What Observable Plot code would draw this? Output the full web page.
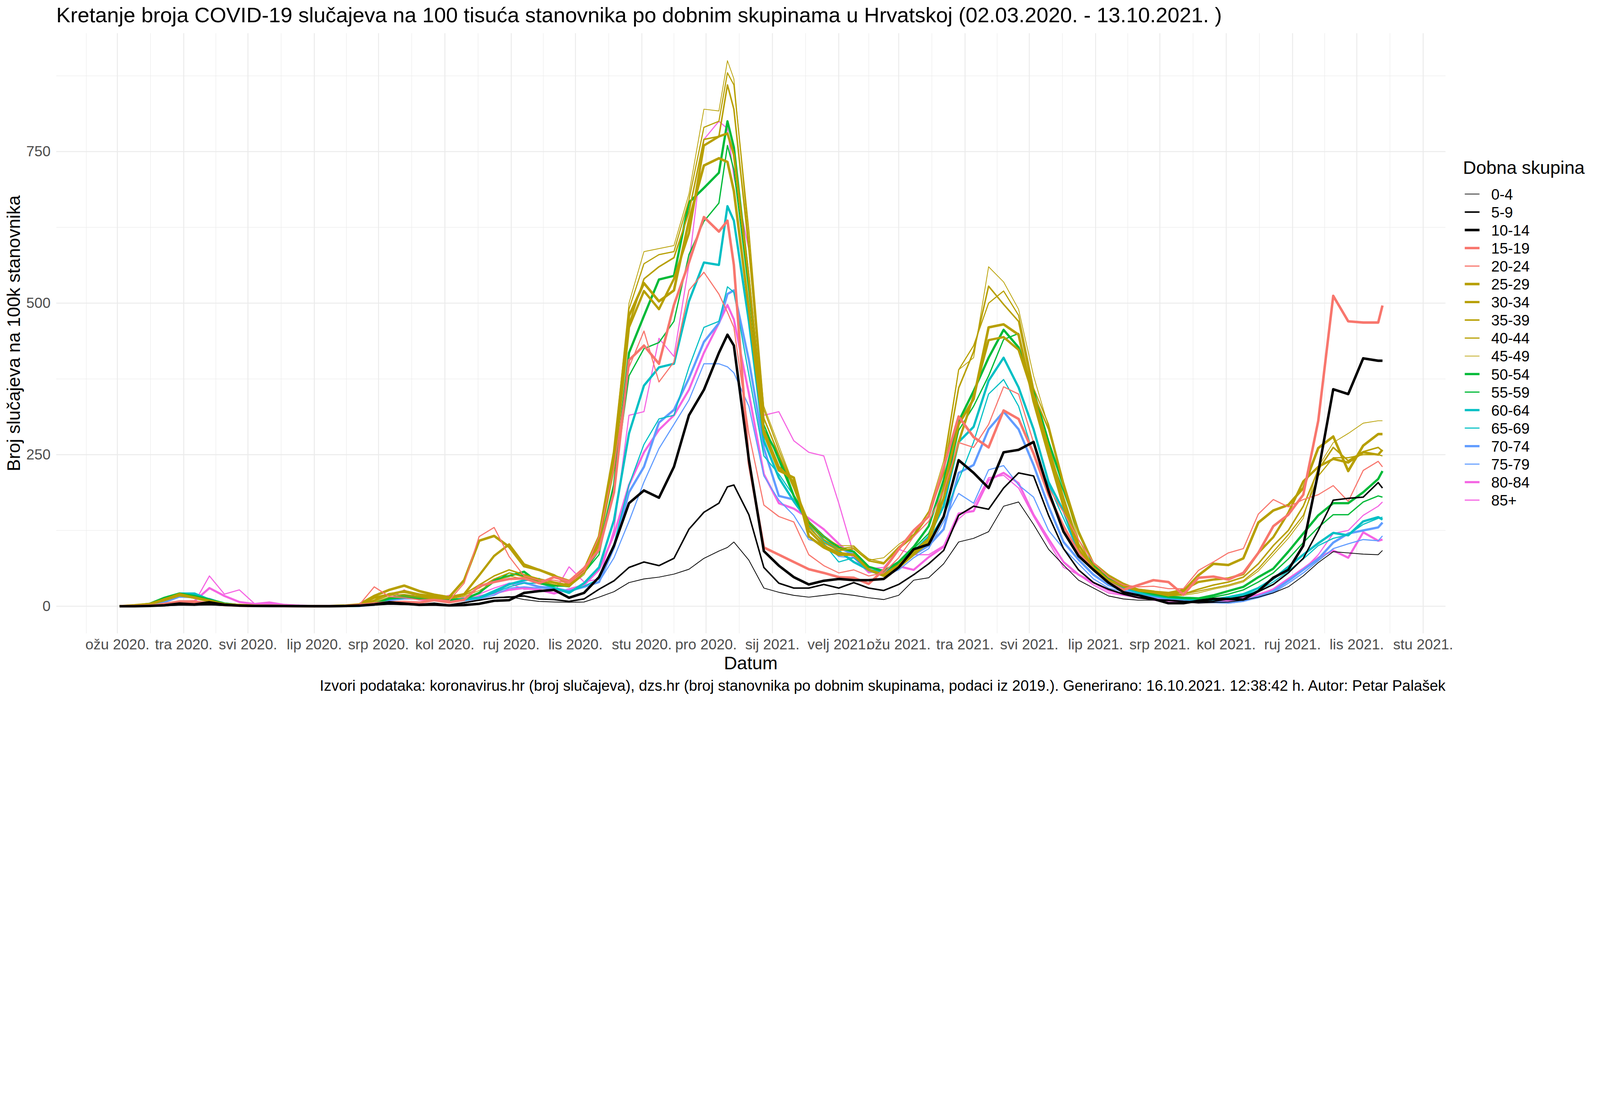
<!DOCTYPE html>
<html><head><meta charset="utf-8">
<script src="https://cdn.jsdelivr.net/npm/d3@7"></script>
<script src="https://cdn.jsdelivr.net/npm/@observablehq/plot@0.6"></script>
<style>
html,body{margin:0;padding:0;background:#fff;overflow:hidden;}
#outer{position:relative;overflow:hidden;background:#fff;}
#wrap{position:absolute;left:0;top:0;width:6400px;height:2800px;overflow:hidden;background:#fff;transform-origin:0 0;font-family:"Liberation Sans",Arial,Helvetica,sans-serif;}
#chart{position:absolute;left:0;top:120px;width:6400px;}
#chart svg{max-width:none !important;}
#overlay{position:absolute;left:0;top:0;}
</style></head><body>
<div id="outer"><div id="wrap"><div id="chart"></div><svg id="overlay" width="6400" height="2800"></svg></div></div>
<script>
const titleText = "Kretanje broja COVID-19 slučajeva na 100 tisuća stanovnika po dobnim skupinama u Hrvatskoj (02.03.2020. - 13.10.2021. )";
const yTitle = "Broj slučajeva na 100k stanovnika";
const xTitle = "Datum";
const captionText = "Izvori podataka: koronavirus.hr (broj slučajeva), dzs.hr (broj stanovnika po dobnim skupinama, podaci iz 2019.). Generirano: 16.10.2021. 12:38:42 h. Autor: Petar Palašek";
const legendTitle = "Dobna skupina";

const dates = ["2020-03-02","2020-03-09","2020-03-16","2020-03-23","2020-03-30","2020-04-06","2020-04-13","2020-04-20","2020-04-27","2020-05-04","2020-05-11","2020-05-18","2020-05-25","2020-06-01","2020-06-08","2020-06-15","2020-06-22","2020-06-29","2020-07-06","2020-07-13",
"2020-07-20","2020-07-27","2020-08-03","2020-08-10","2020-08-17","2020-08-24","2020-08-31","2020-09-07","2020-09-14","2020-09-21","2020-09-28","2020-10-05","2020-10-12",
"2020-10-19","2020-10-26","2020-11-02","2020-11-09","2020-11-16","2020-11-23","2020-11-30","2020-12-07","2020-12-11","2020-12-14","2020-12-21","2020-12-28","2021-01-04","2021-01-11","2021-01-18","2021-01-25","2021-02-01",
"2021-02-08","2021-02-15","2021-02-22","2021-03-01","2021-03-08","2021-03-15","2021-03-22","2021-03-29","2021-04-05","2021-04-12","2021-04-19","2021-04-26","2021-05-03","2021-05-10","2021-05-17","2021-05-24","2021-05-31","2021-06-07","2021-06-14","2021-06-21","2021-06-28",
"2021-07-05","2021-07-12","2021-07-19","2021-07-26","2021-08-02","2021-08-09","2021-08-16","2021-08-23","2021-08-30","2021-09-06","2021-09-13","2021-09-20","2021-09-27","2021-10-04","2021-10-11","2021-10-13"];

const groups = ["0-4","5-9","10-14","15-19","20-24","25-29","30-34","35-39","40-44","45-49","50-54","55-59","60-64","65-69","70-74","75-79","80-84","85+"];
const colors = ["#000000","#000000","#000000","#F8766D","#F8766D","#B79F00","#B79F00","#B79F00","#B79F00","#B79F00","#00BA38","#00BA38","#00BFC4","#00BFC4","#619CFF","#619CFF","#F564E3","#F564E3"];
const widths = [3,6,10,10,4.5,10,9,6,4.5,3,9,5,9,4.5,9,4.5,8.5,4.5];

const s0_4 = [0,0,0.3,0.8,1.5,1.5,2,1,0.5,0.3,0.3,0.2,0.2,0,0,0.2,0.5,1.5,3,2.3,
1.6,3.5,2,5,10,14,16,11,8,7,6.5,7,15,
24,39,45,48,53,61,79,91,97,106,76,30,23,18,15,18,21,
18,14,11,18,43,47,70,106,112,123,165,172,135,94,68,43,30,17,12,10,10,
9,7,5,6,7,10,15,22,32,50,72,90,88,86,85,92];
const s5_9 = [0,0,0.3,1,2.5,2,3,1.5,0.8,0.5,0.3,0.2,0.2,0,0,0.3,0.8,2.5,4.4,3,
3,5,2,6,10,14,15,17,12,11,8,12,28,
42,64,73,67,79,127,155,170,197,200,151,64,38,30,30,36,30,
39,30,26,36,52,70,92,150,165,160,195,220,215,150,95,60,39,28,20,14,11,
10,8,7,8,12,16,24,36,55,79,125,175,178,180,204,195];
const s10_14 = [0,0,0.5,1.5,4.4,3,6.5,2.5,1,0.5,0.4,0.3,0.2,0.1,0.1,0.3,1,3,6.5,4.4,
2.3,2.8,1.3,2,4,9,10,22,25,27,14,22,48,
100,170,191,179,230,315,357,418,448,430,242,91,67,48,36,42,45,
43,43,45,64,94,102,148,241,220,195,254,258,271,190,123,83,60,39,23,18,12,
5,5,9,12,12,11,25,47,60,100,221,358,350,409,405,405];
const s15_19 = [0,0.3,1,3,6.5,7,5,2,1,0.5,0.5,0.3,0.2,0.1,0.2,0.5,2,4.4,6.5,7,
6,10,6.4,10.7,33,40,45,46,38,48,41,63,93,
188,406,430,400,497,567,642,618,636,563,236,97,85,73,61,55,48,
47,37,60,94,125,148,229,313,279,262,323,309,252,184,132,88,60,39,27,35,43,
40,19,47,49,44,55,88,132,151,184,306,512,470,468,468,496];
const s20_24 = [0,0.5,1.5,5,9,9,6,3,1.5,1,0.8,0.5,0.3,0.2,0.3,0.8,2.3,32,16,14,
10.6,11.4,9.3,38,115,130,82,50,43,43,38,57,115,
230,394,454,370,403,521,551,515,485,460,285,167,148,139,85,67,55,
60,50,55,80,115,140,190,270,262,300,362,350,270,195,155,110,72,48,35,32,33,
29,29,59,73,88,95,152,176,164,176,184,199,173,224,239,230];
const s25_29 = [0,1.5,3.7,11,20,14,8.5,3,2,1,0.8,0.5,0.3,0.2,0.3,1,3,17,27,34,
25,19,15,43,108,116,98,66,60,51,36,60,115,
254,479,533,503,521,636,727,739,733,685,491,285,224,212,115,97,85,
85,60,52,68,90,111,195,300,342,460,465,448,338,250,165,94,60,43,33,26,23,
18,25,51,70,68,79,138,158,167,195,261,280,223,265,284,284];
const s30_34 = [0,1.2,3.5,10,18,14,9,3.5,2,1,0.8,0.5,0.3,0.2,0.3,0.8,2.5,14,19.5,25,
19.5,16.5,15,20,51,83,102,69,60,50,42,60,106,
230,460,520,490,540,615,760,775,780,745,540,290,230,205,125,100,88,
85,60,50,64,85,106,178,271,347,439,444,423,347,262,178,102,64,43,33,27,24,
22,27,40,44,46,53,88,114,154,206,230,243,237,254,250,258];
const s35_39 = [0,1,3.5,11,19,15,10,4,2,1,0.8,0.5,0.3,0.2,0.3,0.7,2,10,21,23,
18,14,13.6,20,35,50,60,52,45,40,35,58,105,
235,465,540,560,575,650,770,775,860,820,590,310,250,195,130,105,92,
95,75,70,95,115,150,220,360,420,528,498,470,350,292,200,120,70,50,36,28,25,
18,20,28,35,40,48,70,100,125,165,225,262,240,255,262,256];
const s40_44 = [0,1,3.5,12,19,15,10,4,2,1,0.7,0.4,0.3,0.2,0.2,0.6,1.5,8,18,19.5,
16,13,13,18,30,45,55,48,42,38,33,55,100,
245,490,565,580,585,670,790,800,880,860,620,325,258,198,135,110,95,
98,78,72,98,118,155,230,390,430,500,520,480,360,300,205,125,72,52,38,28,24,
18,20,25,30,35,42,62,90,118,150,215,245,245,250,250,248];
const s45_49 = [0,1,4,13,20,16,10,4.5,2,1,0.7,0.4,0.3,0.2,0.2,0.5,1.2,6,15,17,
14,12,12,16,26,40,50,45,40,36,32,52,100,
260,500,585,590,595,680,820,817,900,870,600,330,265,200,140,115,100,
100,76,80,102,119,157,240,390,410,560,535,490,380,296,195,110,64,50,38,27,23,
17,18,22,28,33,40,58,85,112,145,230,270,285,302,306,306];
const s50_54 = [0,1,4,14,21,17,11,4.5,2,1,0.7,0.4,0.3,0.1,0.2,0.5,1,5,14,17,
14,12,10.7,11.4,22,43,50,57,38,34,34,57,93,
200,418,479,539,545,666,690,715,800,757,539,291,248,182,139,115,97,
90,65,58,73,98,132,208,305,355,410,456,427,355,271,199,123,68,47,35,26,20,
16,14,13,18,25,32,48,62,90,120,150,170,170,188,210,223];
const s55_59 = [0,1,4,13,19.5,17,11,4.5,2,1,0.7,0.4,0.3,0.1,0.2,0.4,0.8,4,12,14,
12,11,10,12,22,40,55,50,42,35,32,55,85,
200,380,425,435,470,580,635,665,760,720,520,300,240,180,135,110,95,
90,65,58,70,95,120,180,290,330,380,440,450,340,255,190,120,68,45,32,25,21,
15,13,12,15,20,27,40,55,78,105,130,151,151,172,182,180];
const s60_64 = [0,0.8,3,10,21,21,11,4.5,2,1,0.7,0.4,0.3,0.1,0.1,0.3,0.8,3.5,12.7,17,
15.5,12,10.7,12,14,25,36,43,45,30,22,38,64,
142,285,364,394,400,503,567,563,660,636,470,273,212,173,139,109,91,
73,60,56,73,90,115,165,271,296,372,410,361,292,205,157,90,60,43,31,22,18,
14,12,10,11,15,20,30,45,65,85,104,121,117,140,147,143];
const s65_69 = [0,0.6,2.5,9,18,19,10,4,2,1,0.6,0.3,0.2,0.1,0.1,0.3,0.6,3,11,15,
13,11,9,10,13,22,32,38,38,30,24,33,45,
103,200,267,309,315,394,460,470,527,518,382,248,218,182,133,103,73,
80,60,55,70,88,110,150,208,271,350,374,330,250,200,145,90,60,40,30,22,18,
14,12,10,11,14,18,26,40,58,78,100,112,118,135,145,147];
const s70_74 = [0,0.5,2,7,17,15.5,12,3.7,2,1,0.6,0.3,0.2,0.1,0.1,0.3,0.5,2.5,11,14,
14,10.7,8.5,10,14,22,37,39,32,30,25,32,40,
97,188,230,303,324,376,436,467,515,521,406,261,182,176,139,115,97,
85,60,52,65,85,100,127,220,233,292,321,292,233,165,106,77,52,35,26,20,16,
12,9,8,7,6,9,16,25,42,60,78,105,120,125,130,138];
const s75_79 = [0,0.5,2,6,15,14,12,4,2,1,0.6,0.3,0.2,0.1,0.1,0.2,0.5,2,9,12,
12,10,8,9,12,18,30,32,30,28,25,32,40,
80,140,205,260,300,340,400,400,395,385,330,215,175,150,110,103,82,
80,58,50,60,80,95,140,186,170,225,232,200,180,125,95,70,45,30,24,18,15,
12,9,7,6,5,8,14,22,38,55,75,95,103,110,108,116];
const s80_84 = [0,0.3,1.5,4,6,8.5,30,17,7,3.7,4.4,2.3,1,0.3,0.2,0.2,0.5,3,11,18,
11,10,7.8,10,16.5,21,27,30,27,21,28,35,60,
118,200,254,291,315,357,418,467,497,473,351,218,170,161,145,127,103,
81,56,60,66,60,81,98,153,157,208,220,203,151,111,73,52,39,26,20,14,12,
10,8,7,8,9,12,18,28,45,62,80,92,80,122,108,110];
const s85 = [0,0.3,1,3,5,6,50,20,27,4.4,7,3,1.6,0.5,0.3,0.3,0.5,3,12,27,
12.7,12,18,14,20,30,38,28,28,22,65,40,45,
127,315,321,442,412,563,770,800,788,709,588,315,321,273,254,248,170,
85,62,64,94,85,85,100,144,165,212,216,195,148,106,64,52,35,22,18,14,10,
7,6,6,8,10,15,20,28,42,60,85,120,125,150,165,172];

const monthTicks = ["2020-03-01","2020-04-01","2020-05-01","2020-06-01","2020-07-01","2020-08-01","2020-09-01","2020-10-01","2020-11-01","2020-12-01","2021-01-01","2021-02-01","2021-03-01","2021-04-01","2021-05-01","2021-06-01","2021-07-01","2021-08-01","2021-09-01","2021-10-01","2021-11-01"];
const monthLabels = ["ožu 2020.","tra 2020.","svi 2020.","lip 2020.","srp 2020.","kol 2020.","ruj 2020.","lis 2020.","stu 2020.","pro 2020.","sij 2021.","velj 2021.","ožu 2021.","tra 2021.","svi 2021.","lip 2021.","srp 2021.","kol 2021.","ruj 2021.","lis 2021.","stu 2021."];
const yTicks = [0, 250, 500, 750];

const series = [s0_4,s5_9,s10_14,s15_19,s20_24,s25_29,s30_34,s35_39,s40_44,s45_49,s50_54,s55_59,s60_64,s65_69,s70_74,s75_79,s80_84,s85];
series.forEach((s, i) => { if (s.length !== dates.length) throw new Error("length mismatch " + groups[i] + " " + s.length); });

const table = groups.flatMap((g, gi) => series[gi].map((v, i) => ({date: new Date(dates[i]), value: v, group: g})));

// ggplot-like 5% expansion of scales
const ext = d3.extent(table, d => d.date);
const padX = (ext[1] - ext[0]) * 0.05;
const xDomain = [new Date(+ext[0] - padX), new Date(+ext[1] + padX)];
const yMax = d3.max(table, d => d.value), yMin = 0;
const yDomain = [yMin - (yMax - yMin) * 0.05, yMax + (yMax - yMin) * 0.05];

const majorDates = monthTicks.map(d => new Date(d));
const labelMap = new Map(majorDates.map((d, i) => [+d, monthLabels[i]]));
const ext2 = [d3.utcMonth.offset(majorDates[0], -1), ...majorDates, d3.utcMonth.offset(majorDates[majorDates.length - 1], 1)];
const minorDates = d3.pairs(ext2, (a, b) => new Date((+a + +b) / 2)).filter(d => d >= xDomain[0] && d <= xDomain[1]);
const yMinor = d3.pairs([...yTicks, yTicks[yTicks.length - 1] + 250], (a, b) => (a + b) / 2).filter(v => v <= yDomain[1]);

const grid = "#EBEBEB";
const lineMarks = groups.map((g, gi) => Plot.lineY(table.filter(d => d.group === g), {
  x: "date", y: "value", stroke: colors[gi], strokeWidth: widths[gi], strokeLinejoin: "round", strokeLinecap: "butt"
})).reverse();

const chart = Plot.plot({
  width: 6400, height: 2680,
  marginTop: 13, marginBottom: 267, marginLeft: 225, marginRight: 618,
  x: {type: "utc", domain: xDomain, label: null},
  y: {domain: yDomain, label: null},
  style: {fontFamily: "'Liberation Sans', Arial, Helvetica, sans-serif", fontSize: "58.4px", color: "#4D4D4D", background: "transparent", overflow: "visible", maxWidth: "none"},
  marks: [
    Plot.ruleX(minorDates, {stroke: grid, strokeWidth: 1.9}),
    Plot.ruleY(yMinor, {stroke: grid, strokeWidth: 1.9}),
    Plot.ruleX(majorDates, {stroke: grid, strokeWidth: 3.8}),
    Plot.ruleY(yTicks, {stroke: grid, strokeWidth: 3.8}),
    ...lineMarks,
    Plot.axisX(majorDates, {tickSize: 0, tickPadding: 22, tickFormat: d => labelMap.get(+d), fontSize: 58.4, label: null}),
    Plot.axisY(yTicks, {tickSize: 0, tickPadding: 23, fontSize: 58.4, label: null})
  ]
});
document.getElementById("chart").appendChild(chart);

const ov = d3.select("#overlay").attr("font-family", "'Liberation Sans', Arial, Helvetica, sans-serif");
ov.append("text").attr("x", 225).attr("y", 89).attr("font-size", 85).attr("fill", "#000").text(titleText);
ov.append("text").attr("transform", "translate(80,1333) rotate(-90)").attr("text-anchor", "middle").attr("font-size", 73).attr("fill", "#000").text(yTitle);
ov.append("text").attr("x", 3003).attr("y", 2677).attr("text-anchor", "middle").attr("font-size", 73).attr("fill", "#000").text(xTitle);
ov.append("text").attr("x", 5782).attr("y", 2763).attr("text-anchor", "end").attr("font-size", 60).attr("fill", "#000").text(captionText);
ov.append("text").attr("x", 5852).attr("y", 695).attr("font-size", 73).attr("fill", "#000").text(legendTitle);
groups.forEach((g, i) => {
  const cy = 776 + 72 * i;
  ov.append("line").attr("x1", 5859).attr("x2", 5918).attr("y1", cy).attr("y2", cy).attr("stroke", colors[i]).attr("stroke-width", widths[i]);
  ov.append("text").attr("x", 5965).attr("y", cy + 22).attr("font-size", 60).attr("fill", "#000").text(g);
});

// fit the 6400x2800 design into the browser window (layout box scaled too)
function fit() {
  const w = window.innerWidth, h = window.innerHeight;
  const s = Math.min(w / 6400, h / 2800);
  const outer = document.getElementById("outer");
  outer.style.width = (6400 * s) + "px";
  outer.style.height = (2800 * s) + "px";
  document.getElementById("wrap").style.transform = "scale(" + s + ")";
}
fit();
window.addEventListener("resize", fit);
</script>
</body></html>
